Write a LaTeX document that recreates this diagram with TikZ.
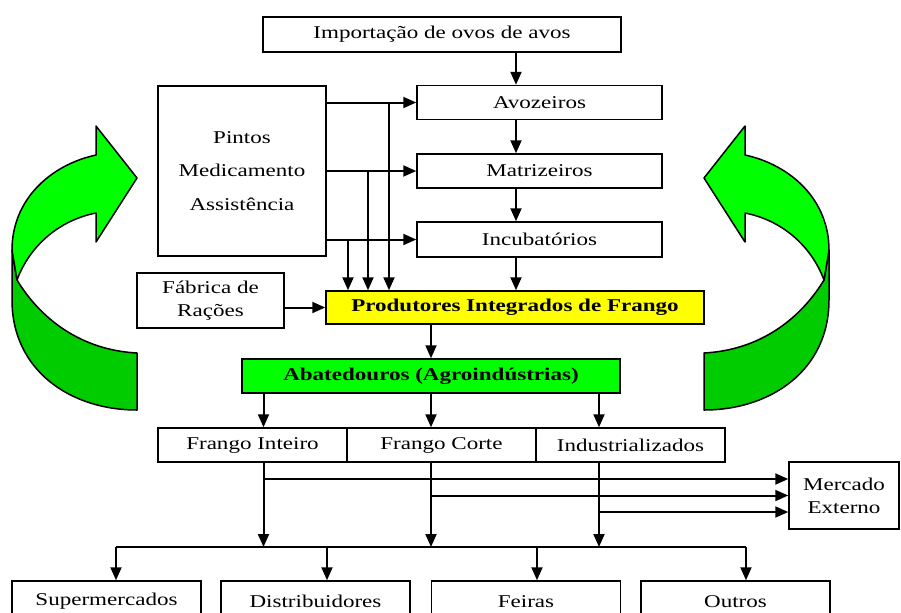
\documentclass[tikz,border=0pt]{standalone}
\usepackage{fontspec}
\setmainfont{Liberation Serif}[FakeStretch=1.28]
\usetikzlibrary{arrows.meta}

\definecolor{verdecla}{RGB}{0,255,0}
\definecolor{verdeesc}{RGB}{0,204,0}
\definecolor{amarelo}{RGB}{255,255,0}

\tikzset{
  caixa/.style={draw, line width=0.75pt, inner sep=0pt, align=center},
  seta/.style={line width=1pt, -{Triangle[length=6.5pt,width=5.5pt]}},
  linha/.style={line width=1pt},
  volta/.style={line width=0.75pt, line join=round},
}

% seta curva verde (lado esquerdo, espelhada para o direito)
\newcommand{\curvaseta}{%
  \filldraw[volta, fill=verdeesc] (12,250) -- (12,300) .. controls (12,370) and (70,410) .. (137,410)
    -- (137,353) .. controls (80,350) and (40,318) .. (17,280) -- cycle;
  \filldraw[volta, fill=verdecla] (17,280) .. controls (30,245) and (60,220) .. (96,213)
    -- (96,242) -- (137,178) -- (96,126) -- (96,155) .. controls (50,165) and (12,200) .. (12,250) -- cycle;
}

\begin{document}
\begin{tikzpicture}[x=0.5pt, y=-0.5pt, font=\fontsize{9}{11.5}\selectfont]
    \useasboundingbox (0,0) rectangle (901,612);

    \curvaseta
    \begin{scope}[shift={(841,0)}, xscale=-1]
        \curvaseta
    \end{scope}

    \node[caixa, minimum width=179pt, minimum height=17.5pt] (imp) at (442,34.5) {Importação de ovos de avos};
    \node[caixa, minimum width=122.5pt, minimum height=17pt] (avo) at (539.5,102.5) {Avozeiros};
    \node[caixa, minimum width=122.5pt, minimum height=17pt] (mat) at (539.5,171) {Matrizeiros};
    \node[caixa, minimum width=122.5pt, minimum height=17.5pt] (inc) at (539.5,239.5) {Incubatórios};
    \node[caixa, minimum width=84pt, minimum height=85pt] (pin) at (242,171) {Pintos\\[5.25pt]Medicamento\\[5.25pt]Assistência};
    \node[caixa, minimum width=73.5pt, minimum height=27.5pt] (fab) at (210.5,300.5) {Fábrica de\\Rações};
    \node[caixa, fill=amarelo, minimum width=189pt, minimum height=16.5pt, font=\fontsize{9}{11.5}\selectfont\bfseries] (pro) at (515,307.5) {Produtores Integrados de Frango};
    \node[caixa, fill=verdecla, minimum width=189pt, minimum height=17pt, font=\fontsize{9}{11.5}\selectfont\bfseries] (aba) at (431,376) {Abatedouros (Agroindústrias)};

    \node[caixa, minimum width=94.5pt, minimum height=17pt] (fi) at (252.5,445) {Frango Inteiro};
    \node[caixa, minimum width=94.5pt, minimum height=17pt] (fc) at (441.5,445) {Frango Corte};
    \node[caixa, minimum width=94.5pt, minimum height=17pt] (ind) at (630.5,445) {Industrializados};
    \node[caixa, minimum width=55pt, minimum height=33.5pt] (mer) at (844,495.5) {Mercado\\Externo};

    \node[caixa, minimum width=94.5pt, minimum height=20.5pt] (sup) at (106.5,601.5) {Supermercados};
    \node[caixa, minimum width=94.5pt, minimum height=20.5pt] (dis) at (315.5,601.5) {Distribuidores};
    \node[caixa, minimum width=94.5pt, minimum height=20.5pt] (fei) at (526,601.5) {Feiras};
    \node[caixa, minimum width=94.5pt, minimum height=20.5pt] (out) at (735.5,601.5) {Outros};

    \coordinate (eixo) at (516,0);
    \coordinate (v1) at (389,0);
    \coordinate (v2) at (368,0);
    \coordinate (v3) at (348,0);
    \coordinate (c1) at (263.5,0);
    \coordinate (c2) at (431,0);
    \coordinate (c3) at (599,0);
    \coordinate (barra) at (0,547);
    \coordinate (d1) at (116,0);
    \coordinate (d2) at (327,0);
    \coordinate (d3) at (537,0);
    \coordinate (d4) at (746,0);
    \coordinate (m1) at ([yshift=8.25pt]mer.west);
    \coordinate (m3) at ([yshift=-8.25pt]mer.west);

    \draw[seta] (imp.south -| eixo) -- (avo.north -| eixo);
    \draw[seta] (avo.south -| eixo) -- (mat.north -| eixo);
    \draw[seta] (mat.south -| eixo) -- (inc.north -| eixo);
    \draw[seta] (inc.south -| eixo) -- (pro.north -| eixo);

    \foreach \a in {avo,mat,inc}
        \draw[seta] (pin.east |- \a.west) -- (\a.west);
    \draw[seta] (v1 |- avo.west) -- (v1 |- pro.north);
    \draw[seta] (v2 |- mat.west) -- (v2 |- pro.north);
    \draw[seta] (v3 |- inc.west) -- (v3 |- pro.north);
    \draw[seta] (fab.east |- pro.west) -- (pro.west);
    \draw[seta] (pro.south -| aba.north) -- (aba.north);

    \foreach \c in {c1,c2,c3} {
        \draw[seta] (\c |- aba.south) -- (\c |- fi.north);
        \draw[seta] (\c |- fi.south) -- (\c |- barra);
    }
    \draw[seta] (c1 |- m1) -- (m1);
    \draw[seta] (c2 |- mer.west) -- (mer.west);
    \draw[seta] (c3 |- m3) -- (m3);

    \draw[linha] (d1 |- barra) -- (d4 |- barra);
    \foreach \d/\b in {d1/sup,d2/dis,d3/fei,d4/out}
        \draw[seta] (\d |- barra) -- (\d |- \b.north);
\end{tikzpicture}
\end{document}
